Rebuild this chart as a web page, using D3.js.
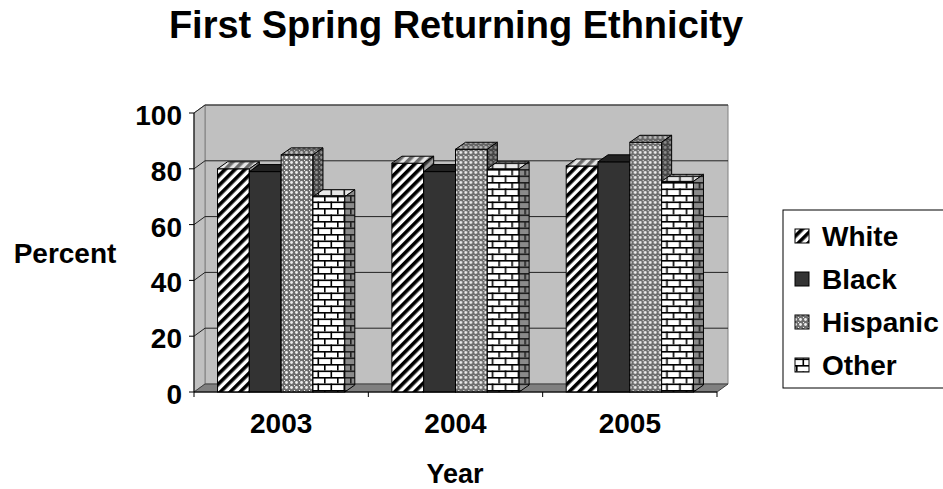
<!DOCTYPE html>
<html>
<head>
<meta charset="utf-8">
<script src="https://cdn.jsdelivr.net/npm/d3@7"></script>
<style>
  body { margin: 0; background: #fff; }
  text { font-family: "Liberation Sans", Arial, sans-serif; font-weight: bold; fill: #000; }
</style>
</head>
<body>
<svg id="chart" width="943" height="489"></svg>
<script>
const years = ['2003', '2004', '2005'];
const series = ['White', 'Black', 'Hispanic', 'Other'];
const white = [80, 82, 81];
const black = [79, 79, 82.5];
const hispanic = [85, 87, 89.5];
const other = [70, 80, 75.5];
const yTicks = [0, 20, 40, 60, 80, 100];

const values = { White: white, Black: black, Hispanic: hispanic, Other: other };

const svg = d3.select('#chart');

// 3d depth offsets
const wallDx = 11, wallDy = -8;
const barDx = 10, barDy = -7;

const y = d3.scaleLinear().domain([0, 100]).range([392, 113]);
const x0 = d3.scaleBand().domain(years).range([194, 717]).padding(0);
const gap = x0.bandwidth() * 0.135;
const x1 = d3.scaleBand().domain(series).range([gap, x0.bandwidth() - gap]).padding(0);

const defs = svg.append('defs');

function stripes(id, bg, fg) {
  const p = defs.append('pattern').attr('id', id)
    .attr('patternUnits', 'userSpaceOnUse')
    .attr('width', 7).attr('height', 7)
    .attr('patternTransform', 'rotate(45)');
  p.append('rect').attr('width', 7).attr('height', 7).attr('fill', bg);
  p.append('rect').attr('width', 3.6).attr('height', 7).attr('fill', fg);
}
function dots(id, bg, fg) {
  const p = defs.append('pattern').attr('id', id)
    .attr('patternUnits', 'userSpaceOnUse')
    .attr('width', 5).attr('height', 5);
  p.append('rect').attr('width', 5).attr('height', 5).attr('fill', bg);
  p.append('circle').attr('cx', 2.5).attr('cy', 2.5).attr('r', 1.4).attr('fill', fg);
  p.append('rect').attr('width', 1).attr('height', 1).attr('fill', fg);
}
function bricks(id, bg, fg) {
  const p = defs.append('pattern').attr('id', id)
    .attr('patternUnits', 'userSpaceOnUse')
    .attr('width', 13).attr('height', 13);
  p.append('rect').attr('width', 13).attr('height', 13).attr('fill', bg);
  p.append('rect').attr('y', 0).attr('width', 13).attr('height', 1.6).attr('fill', fg);
  p.append('rect').attr('y', 6.5).attr('width', 13).attr('height', 1.6).attr('fill', fg);
  p.append('rect').attr('x', 0).attr('y', 0).attr('width', 1.6).attr('height', 6.5).attr('fill', fg);
  p.append('rect').attr('x', 6.5).attr('y', 6.5).attr('width', 1.6).attr('height', 6.5).attr('fill', fg);
}

stripes('white-front', '#ffffff', '#000000');
stripes('white-top', '#e6e6e6', '#6a6a6a');
stripes('white-side', '#a0a0a0', '#303030');
dots('hisp-front', '#6e6e6e', '#f0f0f0');
dots('hisp-top', '#666666', '#bdbdbd');
dots('hisp-side', '#444444', '#8e8e8e');
bricks('other-front', '#ffffff', '#000000');
bricks('other-top', '#e8e8e8', '#202020');
bricks('other-side', '#8a8a8a', '#202020');

const fills = {
  White: { front: 'url(#white-front)', top: 'url(#white-top)', side: 'url(#white-side)' },
  Black: { front: '#333333', top: '#222222', side: '#1c1c1c' },
  Hispanic: { front: 'url(#hisp-front)', top: 'url(#hisp-top)', side: 'url(#hisp-side)' },
  Other: { front: 'url(#other-front)', top: 'url(#other-top)', side: 'url(#other-side)' }
};

const pts = arr => arr.map(p => p.join(',')).join(' ');

// walls and floor
const xl = x0.range()[0], xr = x0.range()[1];
const yb = y(0), yt = y(100);

svg.append('polygon')
  .attr('points', pts([[xl + wallDx, yt + wallDy], [xr + wallDx, yt + wallDy], [xr + wallDx, yb + wallDy], [xl + wallDx, yb + wallDy]]))
  .attr('fill', '#c0c0c0').attr('stroke', '#808080');
svg.append('polygon')
  .attr('points', pts([[xl, yt], [xl + wallDx, yt + wallDy], [xl + wallDx, yb + wallDy], [xl, yb]]))
  .attr('fill', '#c0c0c0').attr('stroke', '#808080');

// gridlines
yTicks.filter(t => t > 0).forEach(t => {
  svg.append('polyline')
    .attr('points', pts([[xl, y(t)], [xl + wallDx, y(t) + wallDy], [xr + wallDx, y(t) + wallDy]]))
    .attr('fill', 'none').attr('stroke', '#222').attr('stroke-width', 1);
});

svg.append('polygon')
  .attr('points', pts([[xl, yb], [xr, yb], [xr + wallDx, yb + wallDy], [xl + wallDx, yb + wallDy]]))
  .attr('fill', '#808080').attr('stroke', '#404040');

// bars
const groups = svg.append('g').selectAll('g')
  .data(years)
  .join('g')
  .attr('transform', d => `translate(${x0(d)},0)`);

groups.each(function(yr, i) {
  const g = d3.select(this);
  series.forEach(s => {
    const v = values[s][i];
    const bx = x1(s), bw = x1.bandwidth(), top = y(v);
    const f = fills[s];
    g.append('rect')
      .attr('x', bx).attr('y', top)
      .attr('width', bw).attr('height', yb - top)
      .attr('fill', f.front).attr('stroke', '#000').attr('stroke-width', 1);
    g.append('polygon')
      .attr('points', pts([[bx, top], [bx + bw, top], [bx + bw + barDx, top + barDy], [bx + barDx, top + barDy]]))
      .attr('fill', f.top).attr('stroke', '#000').attr('stroke-width', 1);
    g.append('polygon')
      .attr('points', pts([[bx + bw, top], [bx + bw + barDx, top + barDy], [bx + bw + barDx, yb + barDy], [bx + bw, yb]]))
      .attr('fill', f.side).attr('stroke', '#000').attr('stroke-width', 1);
  });
});

// axes
svg.append('line')
  .attr('x1', xl).attr('x2', xl).attr('y1', yt).attr('y2', yb)
  .attr('stroke', '#000');
svg.append('line')
  .attr('x1', xl).attr('x2', xr).attr('y1', yb).attr('y2', yb)
  .attr('stroke', '#000');

svg.append('g').selectAll('line')
  .data(yTicks)
  .join('line')
  .attr('x1', xl - 5).attr('x2', xl)
  .attr('y1', d => y(d)).attr('y2', d => y(d))
  .attr('stroke', '#000');

svg.append('g').selectAll('text')
  .data(yTicks)
  .join('text')
  .attr('x', 182)
  .attr('y', d => y(d) + 12)
  .attr('text-anchor', 'end')
  .attr('font-size', 28)
  .text(d => d);

const catTicks = years.map(d => x0(d)).concat([xr]);
svg.append('g').selectAll('line')
  .data(catTicks)
  .join('line')
  .attr('x1', d => d).attr('x2', d => d)
  .attr('y1', yb).attr('y2', yb + 5)
  .attr('stroke', '#000');

svg.append('g').selectAll('text')
  .data(years)
  .join('text')
  .attr('x', d => x0(d) + x0.bandwidth() / 2)
  .attr('y', 433)
  .attr('text-anchor', 'middle')
  .attr('font-size', 28)
  .text(d => d);

// titles
svg.append('text')
  .attr('x', 456).attr('y', 38)
  .attr('text-anchor', 'middle')
  .attr('font-size', 38)
  .text('First Spring Returning Ethnicity');

svg.append('text')
  .attr('x', 65).attr('y', 263)
  .attr('text-anchor', 'middle')
  .attr('font-size', 28)
  .text('Percent');

svg.append('text')
  .attr('x', 455).attr('y', 483)
  .attr('text-anchor', 'middle')
  .attr('font-size', 27)
  .text('Year');

// legend
const legend = svg.append('g').attr('transform', 'translate(783,210)');
legend.append('rect')
  .attr('width', 175).attr('height', 178)
  .attr('fill', '#fff').attr('stroke', '#000');

const rows = legend.selectAll('g')
  .data(series)
  .join('g')
  .attr('transform', (d, i) => `translate(0,${26 + i * 43})`);

rows.append('rect')
  .attr('x', 12).attr('y', -7)
  .attr('width', 14).attr('height', 14)
  .attr('fill', d => fills[d].front)
  .attr('stroke', '#000');

rows.append('text')
  .attr('x', 39).attr('y', 10)
  .attr('font-size', 28)
  .text(d => d);
</script>
</body>
</html>
